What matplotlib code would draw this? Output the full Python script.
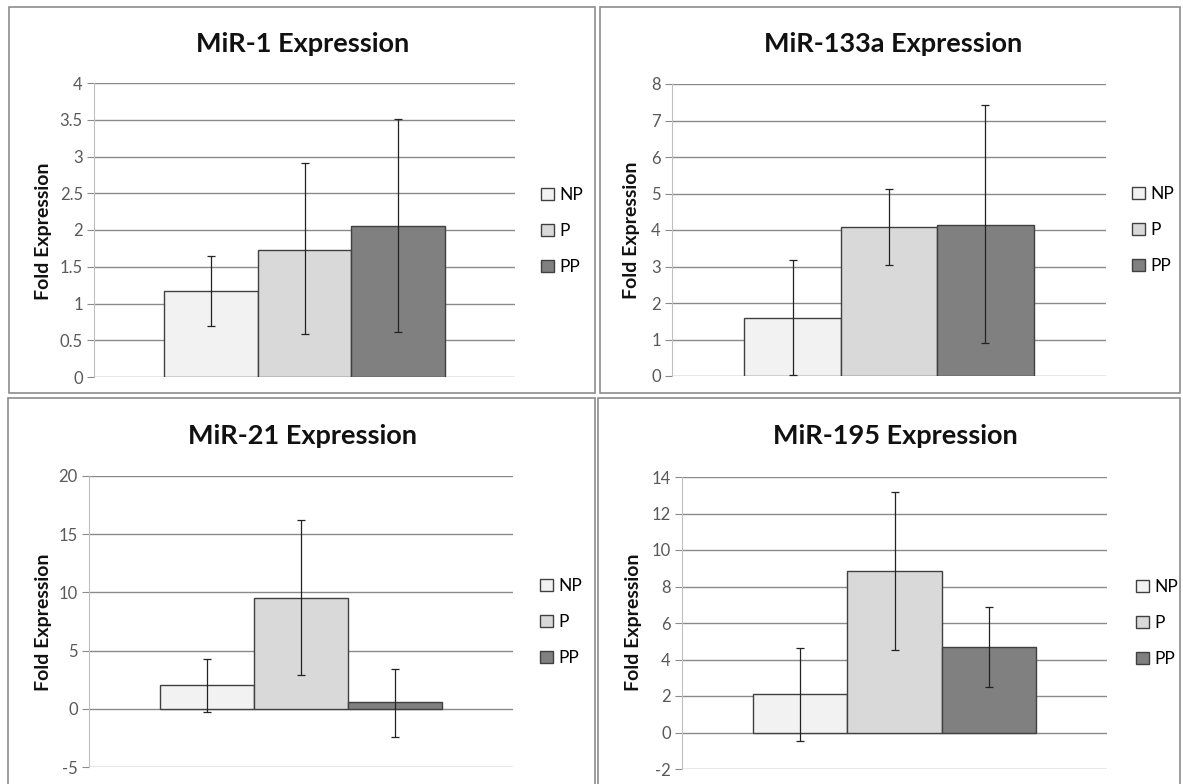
import matplotlib
matplotlib.use("Agg")
import matplotlib.pyplot as plt
from matplotlib.patches import Rectangle

plt.rcParams['font.family'] = ['Lato', 'DejaVu Sans']

series = ["NP", "P", "PP"]
colors = ["#f2f2f2", "#d9d9d9", "#808080"]

titles = ["MiR-1 Expression", "MiR-133a Expression", "MiR-21 Expression", "MiR-195 Expression"]

mir1_vals = [1.17, 1.73, 2.06]
mir1_low = [0.70, 0.58, 0.61]
mir1_high = [1.64, 2.91, 3.51]

mir133a_vals = [1.60, 4.08, 4.15]
mir133a_low = [0.02, 3.03, 0.90]
mir133a_high = [3.17, 5.12, 7.42]

mir21_vals = [2.05, 9.55, 0.55]
mir21_low = [-0.25, 2.90, -2.40]
mir21_high = [4.25, 16.20, 3.40]

mir195_vals = [2.10, 8.85, 4.70]
mir195_low = [-0.45, 4.50, 2.50]
mir195_high = [4.65, 13.20, 6.85]

yticks1 = [0, 0.5, 1, 1.5, 2, 2.5, 3, 3.5, 4]
yticks2 = [0, 1, 2, 3, 4, 5, 6, 7, 8]
yticks3 = [-5, 0, 5, 10, 15, 20]
yticks4 = [-2, 0, 2, 4, 6, 8, 10, 12, 14]

W, H = 1183, 784
fig = plt.figure(figsize=(W / 100, H / 100), dpi=100)

def fx(px):
    return px / W

def fy(py):
    return 1 - py / H

# panel borders (pixel coords)
borders = [(9, 7, 595, 393), (600, 7, 1180, 393), (8, 398, 595, 790), (598, 398, 1180, 790)]
for (x0, y0, x1, y1) in borders:
    fig.patches.append(Rectangle((fx(x0), fy(y1)), fx(x1) - fx(x0), fy(y0) - fy(y1),
                                 transform=fig.transFigure, fill=False,
                                 edgecolor="#8c8c8c", linewidth=1.2))

# axes rects: left, right, top, bottom in pixels
axes_px = [(94, 515, 83, 377), (672, 1106, 84, 376), (89, 513, 476, 767), (682, 1107, 477, 769)]
title_px = [(303, 44), (893, 44), (302, 436), (895, 436)]
ylab_px = [(43, 231), (632, 230), (43, 622), (634, 622)]
legend_px = [(541, 231), (1132, 230), (540, 622), (1136, 623)]

data = [
    (mir1_vals, mir1_low, mir1_high, yticks1),
    (mir133a_vals, mir133a_low, mir133a_high, yticks2),
    (mir21_vals, mir21_low, mir21_high, yticks3),
    (mir195_vals, mir195_low, mir195_high, yticks4),
]

for i, (vals, low, high, yt) in enumerate(data):
    l, r, t, b = axes_px[i]
    ax = fig.add_axes([fx(l), fy(b), fx(r) - fx(l), fy(t) - fy(b)])
    for j in range(3):
        ax.bar(j, vals[j], width=1.0, color=colors[j], edgecolor="#404040",
               linewidth=1.0, label=series[j], zorder=2)
        ax.errorbar(j, vals[j], yerr=[[vals[j] - low[j]], [high[j] - vals[j]]],
                    fmt="none", ecolor="#222222", elinewidth=0.9, capsize=3,
                    capthick=0.9, zorder=3)
    ax.set_xlim(-1.25, 3.25)
    ax.set_ylim(yt[0], yt[-1])
    ax.set_yticks(yt)
    ax.set_yticklabels([("%g" % v) for v in yt])
    ax.yaxis.grid(True, color="#8a8a8a", linewidth=1.0, zorder=0)
    ax.set_axisbelow(True)
    ax.set_xticks([])
    for s in ["top", "right", "bottom"]:
        ax.spines[s].set_visible(False)
    ax.spines["left"].set_color("#bfbfbf")
    ax.tick_params(axis="y", length=5, color="#8a8a8a", labelsize=12,
                   labelcolor="#595959", pad=3)
    ax.patch.set_alpha(0)
    fig.text(fx(title_px[i][0]), fy(title_px[i][1]), titles[i], ha="center",
             va="center", fontsize=19.5, fontweight="bold", color="#111111")
    fig.text(fx(ylab_px[i][0]), fy(ylab_px[i][1]), "Fold Expression", ha="center",
             va="center", rotation=90, fontsize=14, fontweight="bold", color="#111111")
    ax.legend(loc="center left", bbox_to_anchor=(fx(legend_px[i][0]), fy(legend_px[i][1])),
              bbox_transform=fig.transFigure, frameon=False, fontsize=12.5,
              handlelength=0.75, handleheight=0.75, handletextpad=0.3,
              labelspacing=1.15, borderaxespad=0, borderpad=0)

fig.savefig("out.png", dpi=100, facecolor="white")
